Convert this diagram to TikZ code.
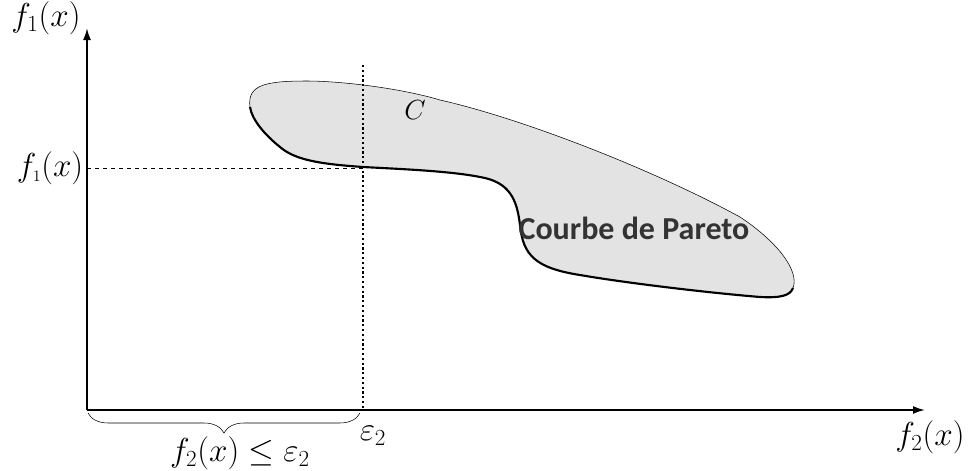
\documentclass[tikz,border=0pt]{standalone}
\usepackage{fontspec}
\newfontfamily\carlito{Carlito}
\usetikzlibrary{decorations.pathreplacing,arrows.meta}

\begin{document}
\begin{tikzpicture}[>={Latex[length=9pt,width=6pt]}, x=0.75pt, y=-0.75pt, font=\fontsize{24}{28}\selectfont]
  \useasboundingbox (0,0) rectangle (972,471);
  \coordinate (O) at (87,410); \coordinate (ytop) at (87,28); \coordinate (xend) at (925,410);
  \coordinate (epsTop) at (363,65); \coordinate (epsBot) at (363,410);
  \coordinate (fOne) at (87,168); \coordinate (fOneC) at (363,168);
  % region C
  \draw[fill=gray!22, thin] (250,107) .. controls (247,85) and (265,81) .. (307,81)
    .. controls (340,81) and (400,88) .. (440,100) .. controls (520,118) and (650,168) .. (740,217)
    .. controls (775,240) and (800,270) .. (793,288) .. controls (790,296) and (780,298) .. (760,297)
    .. controls (700,292) and (620,282) .. (580,275) .. controls (535,268) and (523,255) .. (520,225)
    .. controls (517,200) and (510,182) .. (480,177) .. controls (450,171) and (400,169) .. (363,167)
    .. controls (320,164) and (295,160) .. (280,147) .. controls (265,135) and (252,120) .. (250,107) -- cycle;
  % Pareto front
  \draw[line width=1.6pt] (793,288) .. controls (790,296) and (780,298) .. (760,297)
    .. controls (700,292) and (620,282) .. (580,275) .. controls (535,268) and (523,255) .. (520,225)
    .. controls (517,200) and (510,182) .. (480,177) .. controls (450,171) and (400,169) .. (363,167)
    .. controls (320,164) and (295,160) .. (280,147) .. controls (265,135) and (252,120) .. (250,107);
  % axes
  \draw[line width=1.4pt,->] (O)--(ytop);
  \draw[line width=1.4pt,->] (O)--(xend);
  \draw[dashed] (fOne)--(fOneC);
  \draw[dotted, line width=1.6pt] (epsTop)--(epsBot);
  \draw[decorate, decoration={brace, mirror, amplitude=15pt}, thin] (88,413)--(360,413);
  \node (lfone) at (46,18) {$f_1(x)$};
  \node (lfonex) at (50,168) {$f_{\scriptscriptstyle 1}(x)$};
  \node (lftwo) at (930,437) {$f_2(x)$};
  \node (leps) at (373,436) {$\varepsilon_2$};
  \node[anchor=south, inner sep=1pt] (lcons) at (240,471) {$f_2(x)\leq\varepsilon_2$};
  \node[font=\fontsize{20}{24}\selectfont] (lC) at (415,110) {$C$};
  \node[text=black!80] (lpareto) at (634,228) {\carlito\bfseries\fontsize{24}{28}\selectfont Courbe de Pareto};
\end{tikzpicture}
\end{document}
